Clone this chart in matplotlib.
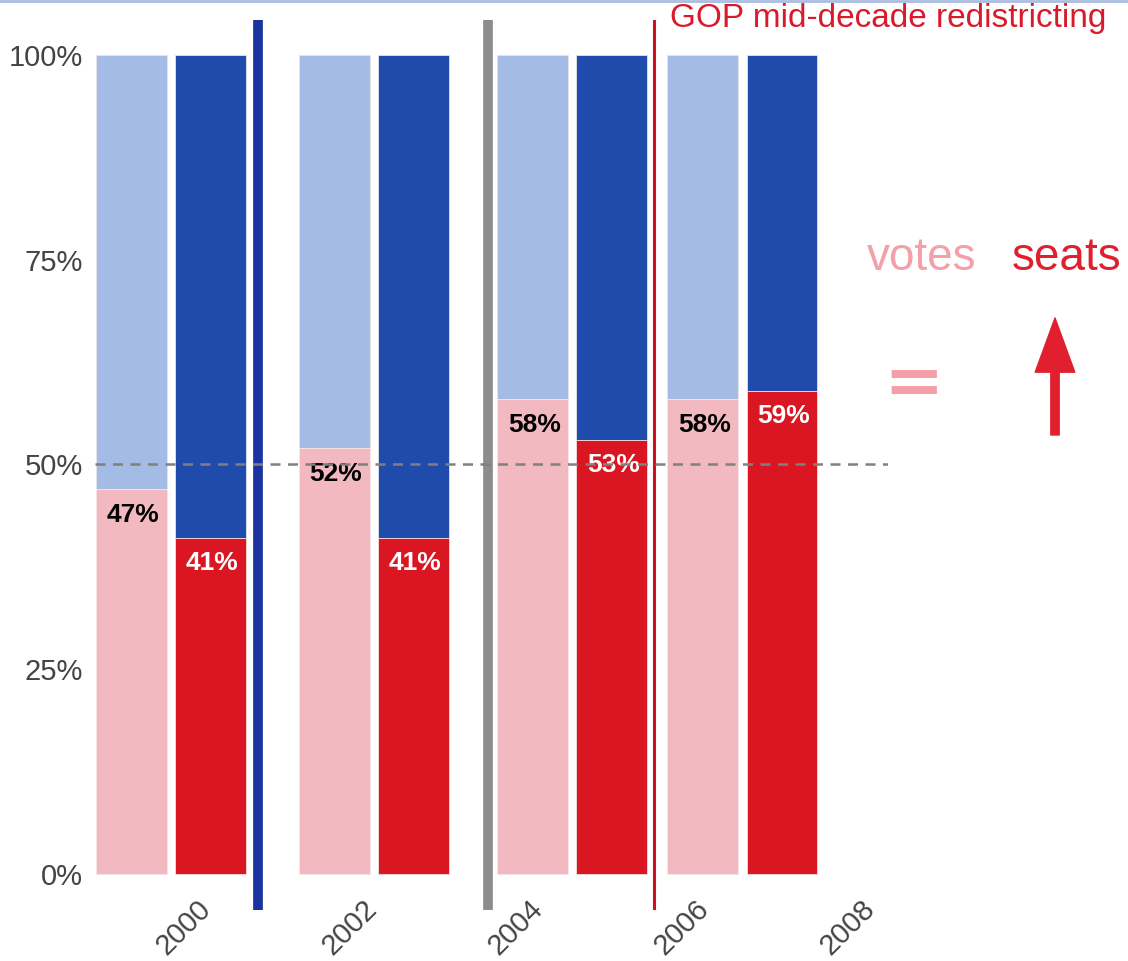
import matplotlib
matplotlib.use("Agg")
from matplotlib import pyplot as plt
from matplotlib.lines import Line2D
from matplotlib.transforms import ScaledTranslation

# share of the vote vs. share of seats won by Republicans
years = [2000, 2002, 2004, 2006]
votes = [47, 52, 58, 58]
seats = [41, 41, 53, 59]
yearTicks = [2000, 2002, 2004, 2006, 2008]
pctTicks = [0, 25, 50, 75, 100]

# where each election's pair of bars sits on the year axis
groupX = [1999.49, 2001.94, 2004.33, 2006.38]
pairOffset = 0.476
barWidth = 0.855

LIGHT_BLUE = "#A3BBE5"
DARK_BLUE = "#1F4BAD"
PINK = "#F2BAC0"
RED = "#D91622"
FONT = ["Liberation Sans", "DejaVu Sans"]


def main():
    fig = plt.figure(figsize=(11.28, 9.61), dpi=100)
    ax = fig.add_axes([0.0842, 0.0531, 0.703, 0.9261])

    voteX = [g - pairOffset for g in groupX]
    seatX = [g + pairOffset for g in groupX]

    # blue remainder on top, red share on the bottom
    ax.bar(voteX, [100 - v for v in votes], barWidth, bottom=votes,
           color=LIGHT_BLUE, edgecolor="#E6E6E6", linewidth=0.6)
    ax.bar(voteX, votes, barWidth, color=PINK, edgecolor="#F4E6E8", linewidth=0.6)
    ax.bar(seatX, [100 - s for s in seats], barWidth, bottom=seats,
           color=DARK_BLUE, edgecolor="#E6E6E6", linewidth=0.6)
    ax.bar(seatX, seats, barWidth, color=RED, edgecolor="#F0E0E0", linewidth=0.6)

    for x, v in zip(voteX, votes):
        ax.annotate(f"{v}%", (x, v), xytext=(1, -19), textcoords="offset points",
                    ha="center", va="center", fontsize=19, fontweight="bold",
                    color="black", family=FONT)
    for x, s in zip(seatX, seats):
        ax.annotate(f"{s}%", (x, s), xytext=(1, -18), textcoords="offset points",
                    ha="center", va="center", fontsize=19, fontweight="bold",
                    color="white", family=FONT)

    # 50% majority line
    ax.axhline(50, color="#808080", linestyle=(0, (4, 3)), linewidth=1.8, zorder=3)

    # period dividers
    ax.axvline(2000.54, color="#1A33A0", linewidth=7)
    ax.axvline(2003.31, color="#8C8C8C", linewidth=7)
    ax.axvline(2005.31, color="#D0101E", linewidth=2.2)

    ax.set_xlim(1998.578, 2008.133)
    ax.set_ylim(-4.40, 104.27)
    ax.set_yticks(pctTicks)
    ax.set_yticklabels([f"{p}%" for p in pctTicks])
    ax.set_xticks(yearTicks)
    ax.set_xticklabels([str(y) for y in yearTicks], rotation=45, ha="right",
                       rotation_mode="anchor")
    ax.tick_params(length=0, labelsize=21, colors="#444444")
    ax.tick_params(axis="x", pad=-11)
    ax.tick_params(axis="y", pad=8.5)
    nudge = ScaledTranslation(-0.16, 0, fig.dpi_scale_trans)
    for lab in ax.get_xticklabels():
        lab.set_transform(lab.get_transform() + nudge)
    for lab in ax.get_xticklabels() + ax.get_yticklabels():
        lab.set_family(FONT)
    for side in ax.spines.values():
        side.set_visible(False)

    fig.text(670 / 1128, 1 - 19 / 961, "GOP mid-decade redistricting",
             color="#D91A2A", fontsize=24, va="center", ha="left", family=FONT)

    fig.text(922 / 1128, 1 - 258 / 961, "votes", color="#F4A0A8", fontsize=33,
             ha="center", va="center", family=FONT)
    fig.text(1067 / 1128, 1 - 258 / 961, "seats", color="#E0202E", fontsize=33,
             ha="center", va="center", family=FONT)
    fig.text(914 / 1128, 1 - 384 / 961, "=", color="#F4A0A8", fontsize=52,
             fontweight="bold", ha="center", va="center", family="DejaVu Sans")

    ax.annotate("", xy=(1055 / 1128, 1 - 318 / 961), xytext=(1055 / 1128, 1 - 435 / 961),
                xycoords="figure fraction", textcoords="figure fraction",
                arrowprops=dict(arrowstyle="simple,head_length=1.3,head_width=0.95,tail_width=0.2",
                                color="#E0202E", shrinkA=0, shrinkB=0, mutation_scale=30))

    # thin rule along the top edge
    fig.add_artist(Line2D([0, 1], [0.999, 0.999], transform=fig.transFigure,
                          color="#A9BCE0", linewidth=2))

    fig.savefig("out.png", dpi=100)


if __name__ == "__main__":
    main()
